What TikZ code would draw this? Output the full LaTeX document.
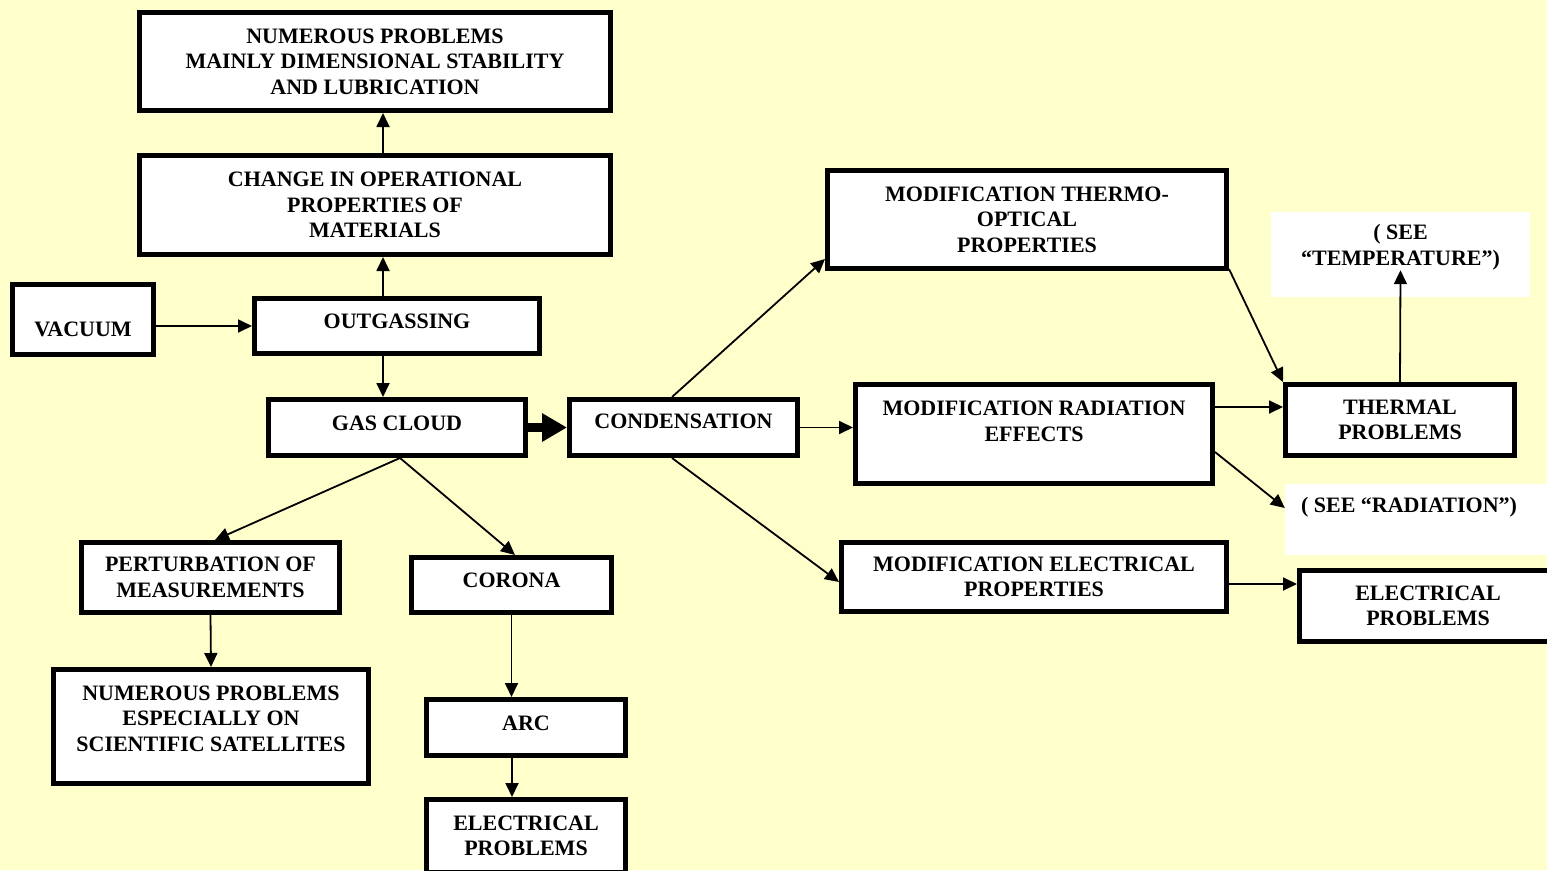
\documentclass[tikz,border=0pt]{standalone}
\usepackage{fontspec}
\setmainfont{Liberation Serif}
\usepackage{xcolor}
\definecolor{paleyellow}{RGB}{255,255,204}
\usepackage{tikz}
\usetikzlibrary{arrows.meta, positioning}
\newcommand{\gapbelow}[1]{\rule[-#1]{0pt}{#1}}
\newcommand{\gapabove}[1]{\rule{0pt}{#1}}
\tikzset{
	effect/.style={draw=black, line width=5pt, fill=white, align=center, inner sep=0pt,
	font=\bfseries\fontsize{22}{25.5}\selectfont}
}
\tikzset{
	seealso/.style={fill=white, align=center, inner sep=0pt,
	font=\bfseries\fontsize{22}{25.5}\selectfont}
}
\tikzset{
	flow/.style={line width=1.8pt, -{Triangle[length=14pt, width=13pt]}},
	bigflow/.style={line width=9pt, -{Triangle[length=25pt, width=27pt]}}
}

\begin{document}
\begin{tikzpicture}[x=1pt, y=-1pt]
		\useasboundingbox (0, 0) rectangle (1547, 870);
		\fill[paleyellow] (0, 0) rectangle (1547, 870);

		% outgassing chain
		\node[effect, minimum width=471pt, minimum height=98pt] (numerous) at (375, 61.5) {NUMEROUS PROBLEMS\\MAINLY DIMENSIONAL STABILITY\\AND LUBRICATION};
		\node[effect, minimum width=471pt, minimum height=99pt] (change) at (375, 205) {CHANGE IN OPERATIONAL\\PROPERTIES OF\\MATERIALS};
		\node[effect, minimum width=141pt, minimum height=70pt] (vacuum) at (83, 319.5) {\gapabove{35pt}VACUUM};
		\node[effect, minimum width=285pt, minimum height=55pt] (outgas) at (397, 326) {OUTGASSING\gapbelow{10pt}};
		\node[effect, minimum width=257pt, minimum height=56pt] (gascloud) at (397, 427.5) {GAS CLOUD\gapbelow{9pt}};

		% gas cloud effects
		\node[effect, minimum width=258pt, minimum height=70pt] (perturb) at (210.5, 577.5) {PERTURBATION OF\\MEASUREMENTS};
		\node[effect, minimum width=315pt, minimum height=114pt] (scientific) at (211, 726.5) {NUMEROUS PROBLEMS\\ESPECIALLY ON\\SCIENTIFIC SATELLITES\gapbelow{16pt}};
		\node[effect, minimum width=200pt, minimum height=55pt] (corona) at (511.5, 585) {CORONA\gapbelow{10pt}};
		\node[effect, minimum width=199pt, minimum height=56pt] (arc) at (526, 727.5) {ARC\gapbelow{9pt}};
		\node[effect, minimum width=199pt, minimum height=73pt] (arcelec) at (526, 836) {ELECTRICAL\\PROBLEMS};

		% condensation effects
		\node[effect, minimum width=228pt, minimum height=56pt] (condense) at (683.5, 427.5) {CONDENSATION\gapbelow{13pt}};
		\node[effect, minimum width=399pt, minimum height=98pt] (thermoopt) at (1027, 219.5) {MODIFICATION THERMO-\\OPTICAL\\PROPERTIES};
		\node[effect, minimum width=357pt, minimum height=99pt] (radmod) at (1034, 434) {MODIFICATION RADIATION\\EFFECTS\gapbelow{26pt}};
		\node[effect, minimum width=385pt, minimum height=69pt] (elecmod) at (1034, 577) {MODIFICATION ELECTRICAL\\PROPERTIES};
		\node[effect, minimum width=229pt, minimum height=71pt] (thermal) at (1400, 420) {THERMAL\\PROBLEMS};
		\node[effect, minimum width=257pt, minimum height=71pt] (elecprob) at (1428, 606) {ELECTRICAL\\PROBLEMS};

		% see also
		\node[seealso, minimum width=259pt, minimum height=85pt] (seetemp) at (1400.5, 254.5) {( SEE\\“TEMPERATURE”)\gapbelow{19pt}};
		\node[seealso, minimum width=262pt, minimum height=71pt] (seerad) at (1416, 519.5) {( SEE “RADIATION”)\hspace{14pt}\gapbelow{29pt}};

		% arrows
		\draw[flow] ([xshift=8pt]change.north) -- ([xshift=8pt]numerous.south);
		\draw[flow] ([xshift=-14pt]outgas.north) -- ([xshift=8pt]change.south);
		\draw[flow] (vacuum.east |- outgas.west) -- (outgas.west);
		\draw[flow] ([xshift=-14pt]outgas.south) -- ([xshift=-14pt]gascloud.north);
		\draw[bigflow] (gascloud.east) -- (condense.west);
		\draw[flow] ([xshift=3pt]gascloud.south) -- ([xshift=4.5pt]perturb.north);
		\draw[flow] ([xshift=3pt]gascloud.south) -- ([xshift=3.5pt]corona.north);
		\draw[flow] (perturb.south) -- (scientific.north);
		\draw[flow] (corona.south) -- (corona.south |- arc.north);
		\draw[flow] ([xshift=-14pt]arc.south) -- ([xshift=-14pt]arcelec.north);
		\draw[flow] ([xshift=-11.5pt]condense.north) -- ([yshift=12pt]thermoopt.south west);
		\draw[flow] (condense.east) -- (condense.east -| radmod.west);
		\draw[flow] ([xshift=-11.5pt]condense.south) -- ([yshift=-5pt]elecmod.west);
		\draw[flow] ([yshift=2pt]thermoopt.south east) -- (thermal.north west);
		\draw[flow] ([yshift=27pt]radmod.east) -- ([yshift=13pt]thermal.west);
		\draw[flow] ([yshift=-18pt]radmod.east) -- ([yshift=11.5pt]seerad.west);
		\draw[flow] (thermal.north) -- ([yshift=27pt]seetemp.south);
		\draw[flow] ([yshift=-7pt]elecmod.east) -- ([yshift=22pt]elecprob.west);
	\end{tikzpicture}
\end{document}
